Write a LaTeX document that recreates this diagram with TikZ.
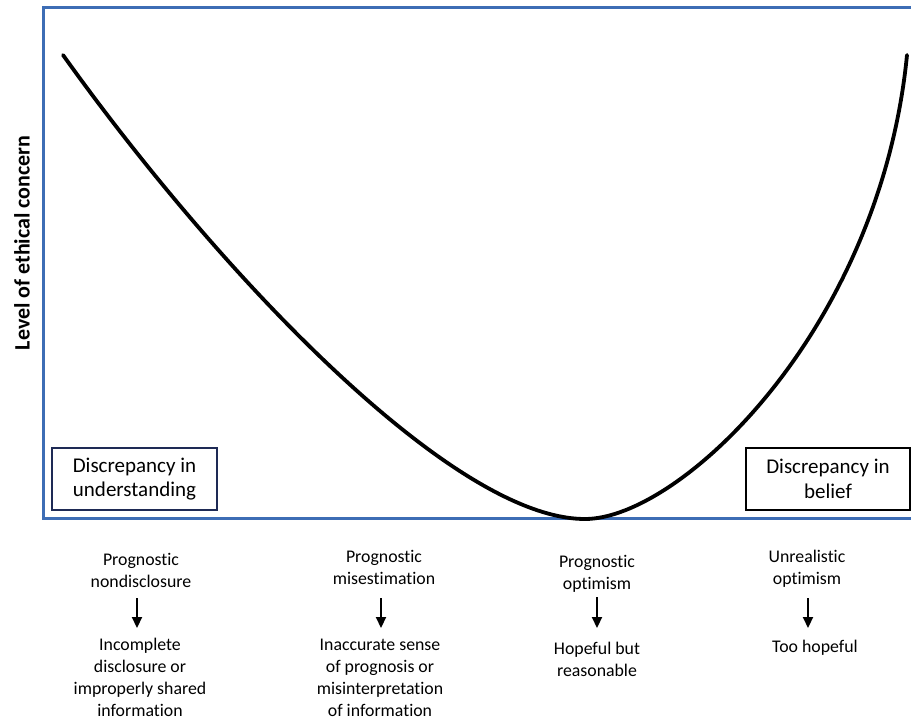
\documentclass[tikz,border=0pt]{standalone}
\usepackage{fontspec}
\setmainfont[Ligatures=NoCommon]{Carlito}
\usetikzlibrary{arrows.meta}
\definecolor{frameblue}{HTML}{3D6DB5}
\definecolor{navy}{HTML}{1E2A55}
\begin{document}
\begin{tikzpicture}[x=1pt,y=-1pt,
  lbl/.style={align=center,font=\fontsize{17.8}{22}\selectfont,inner sep=0pt},
  boxtxt/.style={draw,line width=2pt,align=center,font=\fontsize{21}{24.5}\selectfont,inner sep=0pt,minimum height=62pt},
  darr/.style={-{Triangle[length=11pt,width=10pt]},line width=2.2pt}]
\useasboundingbox (0,0) rectangle (911,722);
% frame
\draw[frameblue,line width=3pt] (911,8) -- (43,8) -- (43,518) -- (911,518);
% curve
\draw[line width=3.8pt,line cap=round] (63,55) .. controls (213,265) and (450,519) .. (585,519)
  .. controls (680,519) and (880,330) .. (907,55);
% y label
\node[rotate=90,font=\bfseries\fontsize{22}{24}\selectfont] (ylab) at (22,243) {Level of ethical concern};
% boxes
\node[boxtxt,draw=navy,minimum width=165pt] (bl) at (134.5,479) {Discrepancy in\\understanding};
\node[boxtxt,draw=black,minimum width=164pt] (br) at (828,479) {Discrepancy in\\belief};
% columns
\node[lbl] (a1) at (141,570) {Prognostic\\nondisclosure};
\node[lbl] (a2) at (140,677) {Incomplete\\disclosure or\\improperly shared\\information};
\node[lbl] (b1) at (384,567) {Prognostic\\misestimation};
\node[lbl] (b2) at (380,678) {Inaccurate sense\\of prognosis or\\misinterpretation\\of information};
\node[lbl] (c1) at (597,574) {Prognostic\\optimism};
\node[lbl] (c2) at (597,659) {Hopeful but\\reasonable};
\node[lbl] (d1) at (807,569) {Unrealistic\\optimism};
\node[lbl] (d2) at (815,648) {Too hopeful};
\coordinate (a1e) at (137,598); \coordinate (a2s) at (137,628);
\coordinate (b1e) at (381,598); \coordinate (b2s) at (381,628);
\coordinate (c1e) at (597,597); \coordinate (c2s) at (597,628);
\coordinate (d1e) at (808,598); \coordinate (d2s) at (808,628);
\draw[darr] (a1e) -- (a2s);
\draw[darr] (b1e) -- (b2s);
\draw[darr] (c1e) -- (c2s);
\draw[darr] (d1e) -- (d2s);
\end{tikzpicture}
\end{document}
